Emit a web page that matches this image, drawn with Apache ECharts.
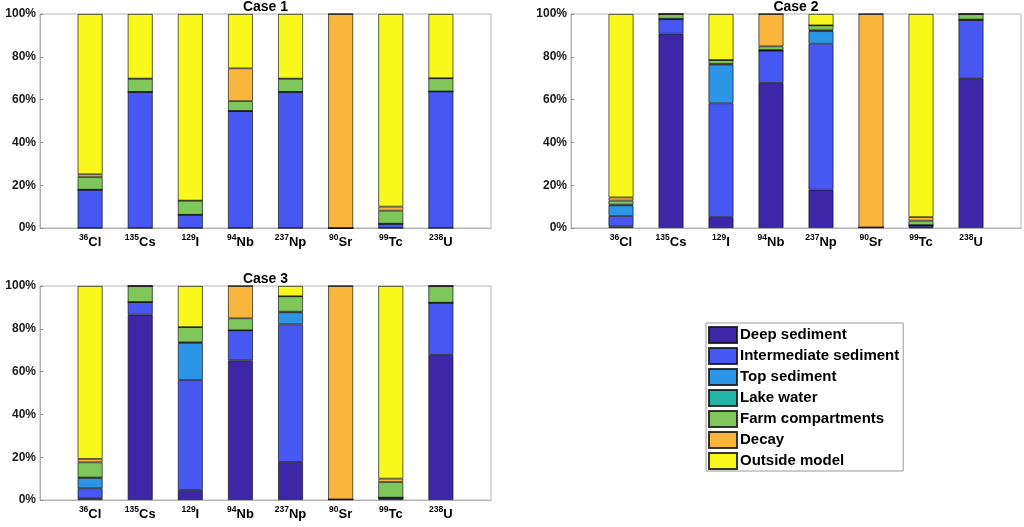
<!DOCTYPE html>
<html>
<head>
<meta charset="utf-8">
<script src="https://cdn.jsdelivr.net/npm/echarts@6/dist/echarts.min.js"></script>
<style>
html,body{margin:0;padding:0;background:#fff;}
#c{width:1024px;height:527px;}
</style>
</head>
<body>
<div id="c"></div>
<script>
// ---- data ----
var isotopeMass = ['36','135','129','94','237','90','99','238'];
var isotopeElem = ['Cl','Cs','I','Nb','Np','Sr','Tc','U'];
var components = ['Deep sediment','Intermediate sediment','Top sediment','Lake water','Farm compartments','Decay','Outside model'];
var caseTitles = ['Case 1','Case 2','Case 3'];
var yTicks = [0,20,40,60,80,100];

// Case 1 (% of total), order follows isotope arrays
var case1Deep    = [0, 0, 0, 0, 0, 0, 0, 0];
var case1Inter   = [17.9, 63.6, 6.2, 54.7, 63.6, 0, 2.0, 63.8];
var case1Top     = [0, 0, 0, 0, 0, 0, 0, 0];
var case1Lake    = [0, 0, 0, 0, 0, 0, 0, 0];
var case1Farm    = [5.9, 6.2, 6.6, 4.6, 6.2, 0, 6.1, 6.2];
var case1Decay   = [1.3, 0, 0, 15.3, 0, 100, 1.9, 0];
var case1Outside = [74.9, 30.2, 87.2, 25.4, 30.2, 0, 90.0, 30.0];

// Case 2
var case2Deep    = [0.8, 90.8, 5.1, 67.8, 17.9, 0.3, 0.3, 70.0];
var case2Inter   = [4.8, 6.8, 53.2, 15.1, 68.2, 0, 0.9, 27.2];
var case2Top     = [5.0, 0, 18.1, 0, 5.9, 0, 0, 0];
var case2Lake    = [0.3, 0.2, 0.3, 0.3, 0.4, 0, 0.2, 0.2];
var case2Farm    = [1.9, 2.2, 1.8, 1.7, 2.3, 0, 2.0, 2.6];
var case2Decay   = [1.5, 0, 0, 15.1, 0, 99.7, 1.7, 0];
var case2Outside = [85.7, 0, 21.5, 0, 5.3, 0, 94.9, 0];

// Case 3
var case3Deep    = [0.9, 86.6, 4.7, 65.3, 17.8, 0.3, 1.1, 67.8];
var case3Inter   = [4.6, 5.9, 51.4, 14.0, 64.3, 0, 0, 24.4];
var case3Top     = [4.8, 0, 17.3, 0, 5.6, 0, 0, 0];
var case3Lake    = [0.2, 0, 0.3, 0, 0.3, 0, 0, 0];
var case3Farm    = [7.1, 7.5, 7.1, 5.6, 7.2, 0, 7.3, 7.8];
var case3Decay   = [1.6, 0, 0, 15.1, 0, 99.7, 1.6, 0];
var case3Outside = [80.8, 0, 19.2, 0, 4.8, 0, 90.0, 0];

var caseData = [
  [case1Deep, case1Inter, case1Top, case1Lake, case1Farm, case1Decay, case1Outside],
  [case2Deep, case2Inter, case2Top, case2Lake, case2Farm, case2Decay, case2Outside],
  [case3Deep, case3Inter, case3Top, case3Lake, case3Farm, case3Decay, case3Outside]
];

// ---- styles ----
var colors = ['#3D26A8','#4657F2','#2C95E6','#22B5A8','#7FC75A','#FAB53C','#F8F81A'];
var FONT = '"Liberation Sans", Arial, sans-serif';
var AX = '#b4b4b4';
var grids = [
  {left: 40, top: 14, width: 451, height: 214},
  {left: 571, top: 14, width: 450, height: 214},
  {left: 40, top: 286, width: 451, height: 214}
];
// axis slots: one empty slot each side (like xlim [0 9])
var slots = [''].concat(isotopeElem.map(function (e, i) { return isotopeMass[i] + e; })).concat(['']);

var option = {
  animation: false,
  backgroundColor: '#fff',
  color: colors,
  title: caseTitles.map(function (t, k) {
    return {
      text: t,
      left: grids[k].left + grids[k].width / 2,
      top: grids[k].top - 14,
      textAlign: 'center',
      padding: 0,
      textStyle: {fontFamily: FONT, fontSize: 14, fontWeight: 'bold', color: '#000', lineHeight: 14}
    };
  }),
  legend: {
    data: components,
    orient: 'vertical',
    left: 706,
    top: 323,
    itemWidth: 28,
    itemHeight: 16,
    itemGap: 3,
    icon: 'rect',
    padding: [3, 4, 1, 2],
    borderColor: '#999',
    borderWidth: 1,
    textStyle: {fontFamily: FONT, fontSize: 15, fontWeight: 'bold', color: '#000', padding: [0,0,0,-2]}
  },
  grid: grids.map(function (g) {
    return {left: g.left, top: g.top, width: g.width, height: g.height,
            show: true, borderColor: AX, borderWidth: 1, backgroundColor: '#fff'};
  }),
  xAxis: grids.map(function (g, k) {
    return {
      type: 'category', gridIndex: k, data: slots, boundaryGap: false,
      axisLine: {show: true, lineStyle: {color: AX}},
      axisTick: {show: false},
      splitLine: {show: false},
      axisLabel: {
        margin: 5,
        interval: 0,
        formatter: function (v, idx) {
          if (idx >= 1 && idx <= isotopeElem.length) {
            return '{s|' + isotopeMass[idx - 1] + '}{m|' + isotopeElem[idx - 1] + '}';
          }
          return '';
        },
        rich: {
          s: {fontFamily: FONT, fontSize: 8.5, fontWeight: 'bold', color: '#000', verticalAlign: 'top', lineHeight: 16},
          m: {fontFamily: FONT, fontSize: 13, fontWeight: 'bold', color: '#000', verticalAlign: 'bottom', lineHeight: 16, padding: [6,0,0,0]}
        }
      }
    };
  }),
  yAxis: grids.map(function (g, k) {
    return {
      type: 'value', gridIndex: k, min: yTicks[0], max: yTicks[yTicks.length - 1], interval: 20,
      axisLine: {show: true, lineStyle: {color: AX}},
      axisTick: {show: true, inside: true, length: 3, lineStyle: {color: '#888'}},
      splitLine: {show: false},
      axisLabel: {
        margin: 4,
        formatter: '{value}%',
        fontFamily: FONT, fontSize: 12, fontWeight: 'bold', color: '#1a1a1a'
      }
    };
  }),
  series: []
};

caseData.forEach(function (comps, k) {
  comps.forEach(function (vals, j) {
    option.series.push({
      type: 'bar',
      name: components[j],
      xAxisIndex: k,
      yAxisIndex: k,
      stack: 'case' + k,
      barWidth: 25,
      itemStyle: {color: colors[j], borderColor: 'rgba(20,20,20,0.85)', borderWidth: 0.8},
      data: ['-'].concat(vals).concat(['-'])
    });
  });
});

var chart = echarts.init(document.getElementById('c'), null, {renderer: 'canvas'});
chart.setOption(option);
</script>
</body>
</html>
